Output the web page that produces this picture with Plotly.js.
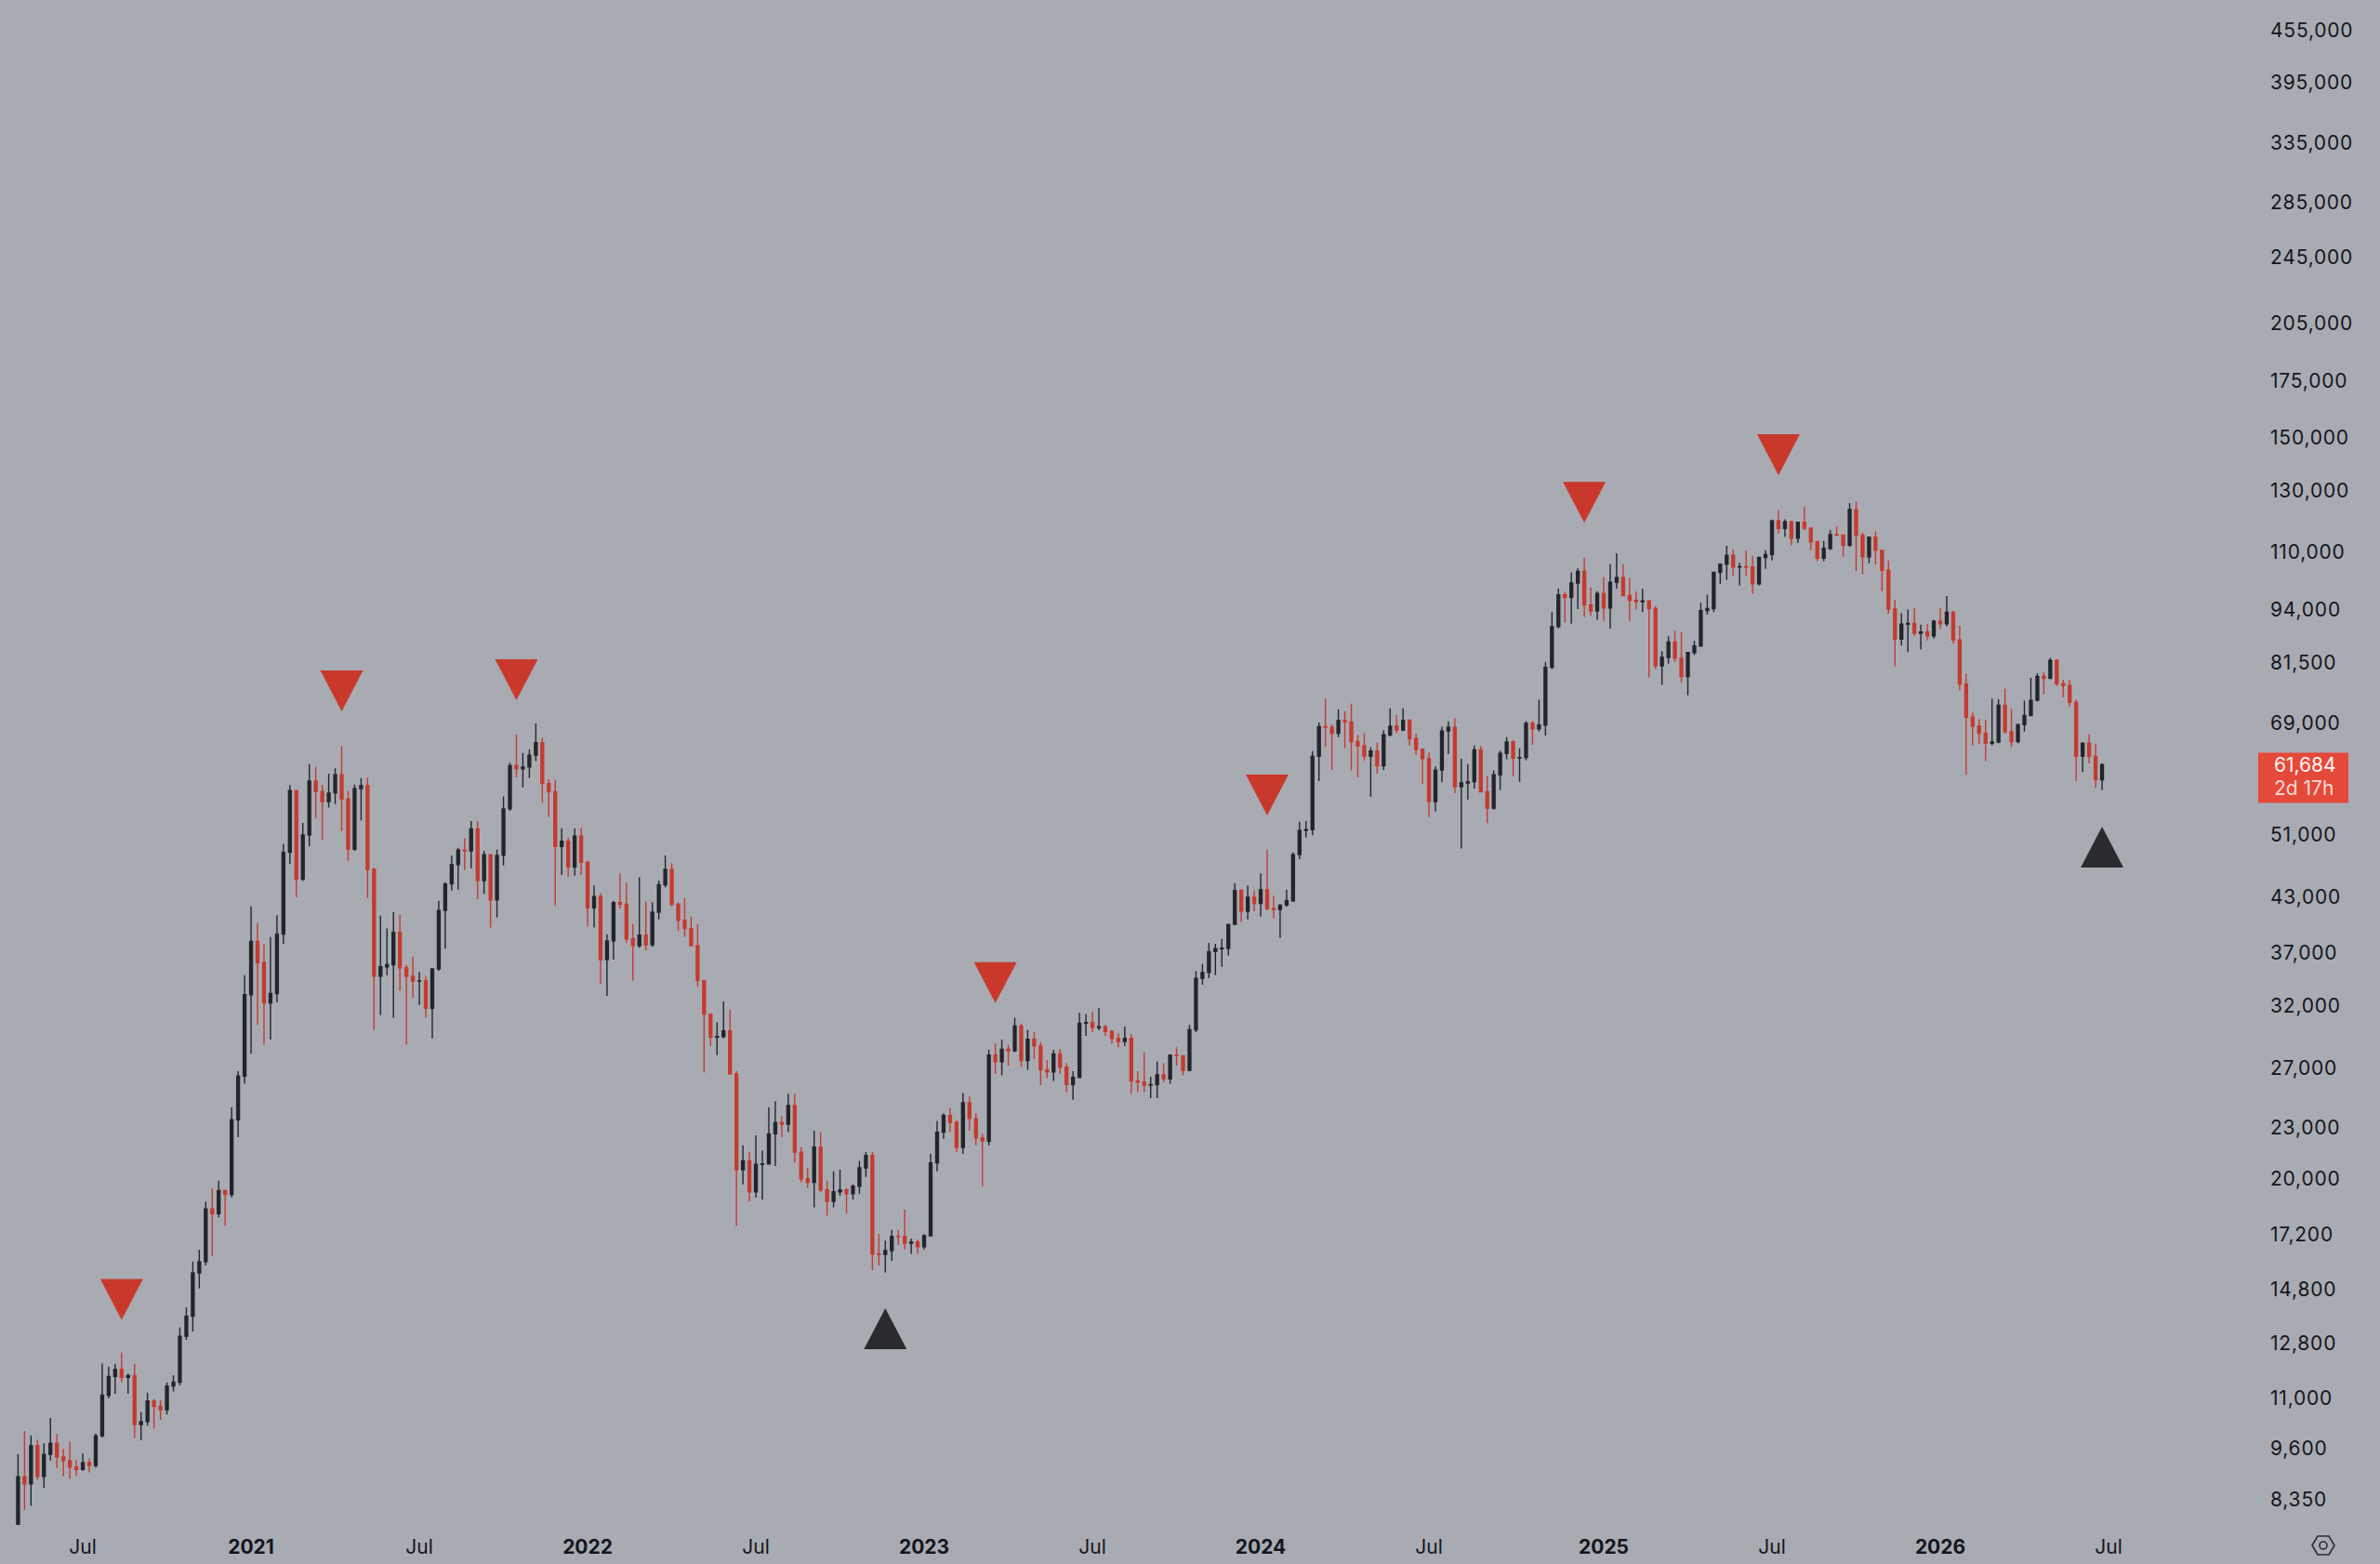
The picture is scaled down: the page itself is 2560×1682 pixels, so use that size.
<!DOCTYPE html>
<html>
<head>
<meta charset="utf-8">
<script src="https://cdn.plot.ly/plotly-3.0.1.min.js"></script>
<style>
html, body { margin: 0; padding: 0; background: #a9abb3; }
#chart { width: 2560px; height: 1682px; }
.ytick text { letter-spacing: 0.8px; }
</style>
</head>
<body>
<div id="chart"></div>
<script>
// ---------- DATA (weekly candles, [open, high, low, close]) ----------
const firstWeek = '2020-04-27';

const bars2020 = [
[7700,9460,7660,8890],[8890,10070,8120,8720],[8720,9950,8220,9680],[9680,9840,8810,8900],
[8900,9740,8630,9450],[9450,10430,9290,9740],[9740,9990,9100,9380],[9380,9590,8900,9290],
[9290,9780,8840,9130],[9130,9310,8920,9070],[9070,9470,9040,9240],[9240,9340,9000,9170],
[9170,10000,9120,9940],[9940,12100,9900,11100],[11100,12000,11000,11680],[11680,12090,11140,11910],
[11910,12470,11500,11650],[11650,11770,11140,11710],[11710,12090,9880,10250],[10250,10600,9820,10330],
[10330,11180,10220,10930],[10930,10990,10140,10770],[10770,10960,10380,10670],[10670,11490,10530,11380],
[11380,11720,11210,11500],[11500,13350,11400,13030],[13030,14100,12900,13760],[13760,15970,13200,15480],
[15480,16490,14850,15960],[15960,18800,15800,18420],[18420,19480,16200,18180],[18180,19900,18000,19360],
[19360,19420,17600,19170],[19170,24300,19000,23480],[23480,26800,22400,26440],[26440,34800,25900,33000]
];
const bars2021 = [
[33000,41950,28100,38150],[38150,40100,30400,36000],[36000,37850,28800,32260],[32260,38600,29200,33100],
[33100,40950,32300,38900],[38900,49700,37900,48600],[48600,58350,47100,57500],[57500,57500,43000,45200],
[45200,52650,44950,50950],[50950,61800,49400,59000],[59000,61300,53300,57350],[57350,58400,50300,55800],
[55800,60200,54900,57100],[57100,61100,55400,60000],[60000,64900,51500,56200],[56200,57500,47500,49000],
[49000,58450,48800,57800],[57800,59500,53000,58250],[58250,59600,42900,46400],[46400,46600,30000,34700],
[34700,40900,31200,35600],[35600,39500,34800,35800],[35800,41300,31000,39100],[39100,41000,33350,35500],
[35500,35800,28800,34700],[34700,36600,32700,34250],[34250,35100,32100,34260],[34260,34700,31000,31800],
[31800,35400,29300,35400],[35400,42600,35200,41500],[41500,44800,37400,44600],[44600,48200,43800,47000],
[47000,49200,43900,48900],[48900,50500,46300,48800],[48800,52900,46500,51800],[51800,52900,42800,45000],
[45000,48800,43400,48300],[48300,48300,39600,42700],[42700,49000,40700,48200],[48200,56600,46900,54700],
[54700,62000,54400,61500],[61500,67000,59600,61000],[61000,63700,58000,61300],[61300,64300,59500,63300],
[63300,69000,62300,65500],[65500,66400,55600,58600],[58600,59300,53500,57300],[57300,59200,42000,49400],
[49400,51900,45700,50100],[50100,50600,45500,46700],[46700,51900,45600,50800],[50800,52000,45700,47300]
];
const bars2022 = [
[47300,47500,39700,41800],[41800,44400,39600,43100],[43100,43500,34000,36300],[36300,38900,32900,38200],
[38200,42600,36300,42400],[42400,45900,41700,42200],[42200,44700,38000,38400],[38400,40000,34300,37700],
[37700,45400,37500,38800],[38800,42500,37200,37800],[37800,42400,37600,41300],[41300,45000,40500,44500],
[44500,48200,44200,46400],[46400,47200,41900,42200],[42200,42400,39200,40400],[40400,42900,38600,39500],
[39500,40800,37600,37700],[37700,40000,33700,34300],[34300,34300,26700,31300],[31300,31300,28700,29400],
[29400,30600,28000,29450],[29450,32400,29300,29900],[29900,31700,26600,26600],[26600,26800,17600,20500],
[20500,21900,19700,21000],[21000,21500,18800,19300],[19300,22500,19000,20800],[20800,21600,18900,20820],
[20820,24300,20800,22600],[22600,24700,20700,23300],[23300,23700,22400,23200],[23200,25200,22700,24400],
[24400,25200,20900,21500],[21500,21800,19800,20000],[20000,20600,19500,19800],[19800,22800,18500,21800],
[21800,22700,19300,19400],[19400,19900,18100,18800],[18800,20400,18500,19300],[19300,20500,19100,19400],
[19400,19500,18200,19200],[19200,19700,18900,19600],[19600,21000,19200,20600],[20600,21500,20100,21300],
[21300,21500,15600,16300],[16300,17200,15800,16280],[16280,16900,15500,16450],[16450,17400,16000,17100],
[17100,17400,16700,17090],[17090,18400,16500,16780],[16780,17000,16300,16840],[16840,16960,16300,16620]
];
const bars2023 = [
[16620,17200,16500,17130],[17130,21400,17100,20880],[20880,23400,20400,22700],[22700,23900,22300,23750],
[23750,24250,22700,23320],[23320,23450,21500,21780],[21780,25250,21400,24600],[24600,25020,22800,23560],
[23560,23900,21900,22350],[22350,22600,19600,22150],[22150,28400,21900,28000],[28000,28900,26600,27500],
[27500,29200,26500,28450],[28450,28800,27200,28330],[28330,31000,28200,30300],[30300,30500,27100,27590],
[27590,30000,26900,29230],[29230,29800,27700,28700],[28700,29000,25800,26900],[26900,27600,26300,26750],
[26750,28400,26100,28080],[28080,28450,26600,27100],[27100,27400,25300,25850],[25850,26800,24800,26340],
[26340,31400,26300,30540],[30540,31300,29500,30590],[30590,31500,29800,30170],[30170,31800,29950,30250],
[30250,30400,29500,29860],[29860,29950,28900,29300],[29300,29700,28600,29060],[29060,30250,28700,29300],
[29300,29650,25200,26100],[26100,26800,25300,26010],[26010,28200,25300,25800],[25800,26400,24900,25830],
[25830,27500,24900,26530],[26530,27400,26000,26250],[26250,28000,25900,27990],[27990,28600,27200,27950],
[27950,28000,26500,26860],[26860,30400,26800,29990],[29990,35200,29800,34500],[34500,35900,33900,35050],
[35050,38000,34500,37100],[37100,37900,34800,37400],[37400,38400,35600,37450],[37450,40000,36700,39950],
[39950,44700,39900,43800],[43800,44000,40200,41400],[41400,44400,40500,43000],[43000,43800,41400,42300]
];
const bars2024 = [
[42300,45900,40800,43900],[43900,49000,41500,41700],[41700,43200,40600,41600],[41600,42200,38500,42100],
[42100,43900,41900,42600],[42600,48600,42500,48300],[48300,52800,47700,51600],[51600,52900,50600,51700],
[51700,64000,50900,63100],[63100,69200,59000,68400],[68400,73800,64700,68300],[68300,68900,60800,67200],
[67200,71700,66500,69600],[69600,71300,64500,69300],[69300,72800,60700,65700],[65700,66900,59600,64900],
[64900,67200,62400,63100],[63100,64700,56500,64000],[64000,65500,60200,61500],[61500,67700,60800,66900],
[66900,71900,66600,68500],[68500,70600,67200,67800],[67800,71900,67600,69600],[69600,69800,65000,66200],
[66200,67100,63400,64300],[64300,64500,58500,62700],[62700,63800,53500,55800],[55800,61400,54300,60800],
[60800,68400,58800,67600],[67600,69400,63500,68300],[68300,70000,57100,58100],[58100,62700,49100,58700],
[58700,61800,56100,58900],[58900,65000,57800,64200],[64200,64900,57200,57300],[57300,59800,52600,54800],
[54800,60700,54600,60000],[60000,64100,57600,63600],[63600,66500,62600,65600],[65600,66000,59800,62800],
[62800,64500,58900,62900],[62900,69400,62400,69000],[69000,69500,65100,68000],[68000,73600,67500,68700],
[68700,81500,66800,80400],[80400,93400,80000,89800],[89800,99600,89400,97900],[97900,98800,90800,97200],
[97200,104000,90500,101100],[101100,105200,94200,104400],[104400,108300,92200,95200],[95200,99900,92500,93700],
[93700,98900,91500,98300]
];
const bars2025 = [
[98300,102700,91200,94500],[94500,106400,89300,101300],[101300,109600,99500,102600],[102600,106400,97500,97700],
[97700,102500,91200,96500],[96500,98800,94100,96100],[96100,99500,93400,96300],[96300,96500,78200,94300],
[94300,95000,80000,80700],[80700,84000,76600,82600],[82600,87500,81200,86100],[86100,88800,81600,82400],
[82400,88500,77100,78400],[78400,83800,74500,83700],[83700,86400,83100,85200],[85200,95800,85100,93800],
[93800,97900,92800,94300],[94300,104300,93400,104100],[104100,106600,100800,106400],[106400,111900,102000,109000],
[109000,110700,103100,105600],[105600,106800,100400,105700],[105700,110400,103000,105600],[105600,108900,98200,100900],
[100900,108500,100400,108400],[108400,110500,105100,109200],[109200,119900,107500,119800],[119800,123200,115700,117300],
[117300,120200,114700,119400],[119400,119800,112000,114200],[114200,119400,112700,119300],[119300,124500,116800,117400],
[117400,117600,110600,113100],[113100,113500,107300,108200],[108200,113400,107300,111100],[111100,116800,110600,115300],
[115300,117900,114900,115200],[115200,115400,108600,112100],[112100,125700,111500,123500],[123500,126200,104500,115100],
[115100,116000,103500,108600],[108600,114600,106700,114500],[114500,116400,106300,110500],[110500,110700,98900,104700],
[104700,107500,93000,94200],[94200,96600,80600,86800],[86800,93100,85300,90400],[90400,94100,83800,90600],
[90600,94500,87500,88200],[88200,90300,84400,88500],[88500,90400,86500,87600],[87600,91500,86900,91100]
];
const bars2026 = [
[91100,94400,89200,90500],[90500,97600,89900,93400],[93400,93700,85700,86600],[86600,90000,75500,76800],
[76800,79000,60000,70200],[70200,71100,65000,68500],[68500,69800,65300,67200],[67200,69700,62300,65400],
[65400,73800,65000,65600],[65600,73700,65400,72500],[72500,75900,67100,67500],[67500,71800,64700,65700],
[65700,68900,65400,68800],[68800,73400,67500,70500],[70500,78100,70400,73500],[73500,79100,73300,78400],
[78400,79300,74700,78000],[78000,82500,77900,81900],[81900,82200,76400,76900],[76900,77700,74100,76500],
[76500,77700,72200,73100],[73100,73600,59000,63100],[63100,65500,60500,65400],[65400,67000,61900,63100],
[63100,65300,57900,59200],[59200,61900,57600,61684]
];

// Signal markers (week of the signal and the price level where the marker sits)
const sellSignalWeeks  = ['2020-08-17','2021-04-12','2021-10-18','2023-03-20','2024-01-08','2024-12-16','2025-07-14'];
const sellSignalLevels = [14400, 75400, 77700, 34100, 56800, 125900, 143300];
const buySignalWeeks   = ['2022-11-21','2026-06-29'];
const buySignalLevels  = [13300, 49300];

// Axis ticks
const priceTicks = [455000,395000,335000,285000,245000,205000,175000,150000,130000,110000,94000,81500,69000,
                    51000,43000,37000,32000,27000,23000,20000,17200,14800,12800,11000,9600,8350];
const timeTickDates  = ['2020-07-06','2021-01-04','2021-07-05','2022-01-03','2022-07-04','2023-01-02','2023-07-03',
                        '2024-01-01','2024-07-01','2025-01-06','2025-07-07','2026-01-05','2026-07-06'];
const timeTickLabels = ['Jul','2021','Jul','2022','Jul','2023','Jul','2024','Jul','2025','Jul','2026','Jul'];
const countdownText = '2d 17h';

// ---------- STYLE ----------
const BG = '#a9abb3';
const UP = '#23252c';
const DOWN = '#c63a2e';
const SELL = '#c9392b';
const BUY = '#2a2b2f';
const TEXT = '#14161b';
const LABEL_BG = '#e4493a';
const FONT = 'Inter, "Noto Sans", Roboto, sans-serif';
const PLOT_W = 2425, PLOT_H = 1640;
const X_RANGE = ['2020-04-07 11:00', '2026-12-10 20:40'];
const Y_RANGE = [3.89208, 5.69349];

// ---------- BUILD ----------
const bars = [].concat(bars2020, bars2021, bars2022, bars2023, bars2024, bars2025, bars2026);
const t0 = new Date(firstWeek + 'T00:00:00Z').getTime();
const weekDates = bars.map((b, i) => new Date(t0 + i * 7 * 86400000).toISOString().slice(0, 10));
const open = bars.map(b => b[0]);
const high = bars.map(b => b[1]);
const low = bars.map(b => b[2]);
const close = bars.map(b => b[3]);
const lastClose = close[close.length - 1];

const candles = {
  type: 'candlestick',
  x: weekDates, open: open, high: high, low: low, close: close,
  increasing: { line: { color: UP, width: 1.4 }, fillcolor: UP },
  decreasing: { line: { color: DOWN, width: 1.4 }, fillcolor: DOWN },
  whiskerwidth: 0,
  hoverinfo: 'skip'
};

// map a (date, price) pair to paper fractions using the axis ranges
const xr0 = new Date(X_RANGE[0].replace(' ', 'T') + 'Z').getTime();
const xr1 = new Date(X_RANGE[1].replace(' ', 'T') + 'Z').getTime();
const xPaper = d => (new Date(d + 'T00:00:00Z').getTime() - xr0) / (xr1 - xr0);
const yPaper = v => (Math.log10(v) - Y_RANGE[0]) / (Y_RANGE[1] - Y_RANGE[0]);

const shapes = [];
const TW = 23, TH = 22;
sellSignalWeeks.forEach((d, i) => shapes.push({
  type: 'path', xref: 'paper', yref: 'paper', xsizemode: 'pixel', ysizemode: 'pixel',
  xanchor: xPaper(d), yanchor: yPaper(sellSignalLevels[i]),
  path: `M${-TW},${TH} L${TW},${TH} L0,${-TH} Z`,
  fillcolor: SELL, line: { width: 0 }, layer: 'above'
}));
buySignalWeeks.forEach((d, i) => shapes.push({
  type: 'path', xref: 'paper', yref: 'paper', xsizemode: 'pixel', ysizemode: 'pixel',
  xanchor: xPaper(d), yanchor: yPaper(buySignalLevels[i]),
  path: `M${-TW},${-TH} L${TW},${-TH} L0,${TH} Z`,
  fillcolor: BUY, line: { width: 0 }, layer: 'above'
}));
// last price label box
shapes.push({
  type: 'rect', xref: 'paper', yref: 'paper', ysizemode: 'pixel',
  x0: 2429 / PLOT_W, x1: 2526 / PLOT_W,
  yanchor: yPaper(lastClose), y0: -41, y1: 13,
  fillcolor: LABEL_BG, line: { width: 0 }, layer: 'above'
});
// settings icon
shapes.push({
  type: 'path', xref: 'paper', yref: 'paper', xsizemode: 'pixel', ysizemode: 'pixel',
  xanchor: 2499 / PLOT_W, yanchor: -22 / PLOT_H,
  path: 'M-12,0 L-6,10 L6,10 L12,0 L6,-10 L-6,-10 Z',
  line: { color: '#2a2c33', width: 1.6 }, fillcolor: 'rgba(0,0,0,0)'
});
shapes.push({
  type: 'circle', xref: 'paper', yref: 'paper', xsizemode: 'pixel', ysizemode: 'pixel',
  xanchor: 2499 / PLOT_W, yanchor: -22 / PLOT_H,
  x0: -4, x1: 4, y0: -4, y1: 4,
  line: { color: '#2a2c33', width: 1.6 }
});

const annotations = [
  { xref: 'paper', yref: 'y', x: 2444 / PLOT_W, y: Math.log10(lastClose), xanchor: 'left', yanchor: 'middle',
    text: lastClose.toLocaleString('en-US'), showarrow: false, font: { family: FONT, size: 21, color: '#fff4f2' } },
  { xref: 'paper', yref: 'y', x: 2444 / PLOT_W, y: Math.log10(lastClose), yshift: -25, xanchor: 'left', yanchor: 'middle',
    text: countdownText, showarrow: false, font: { family: FONT, size: 21, color: '#f8d9d4' } }
];

const layout = {
  width: 2560, height: 1682,
  margin: { l: 0, r: 135, t: 0, b: 42 },
  paper_bgcolor: BG, plot_bgcolor: BG,
  showlegend: false, hovermode: false,
  boxgap: 0.4,
  font: { family: FONT, color: TEXT },
  xaxis: {
    type: 'date',
    range: X_RANGE,
    tickvals: timeTickDates,
    ticktext: timeTickLabels.map(s => /^\d{4}$/.test(s) ? '<b>' + s + '</b>' : s),
    tickfont: { family: FONT, size: 21, color: TEXT },
    showgrid: false, zeroline: false, showline: false, ticks: '',
    ticklabelstandoff: 9,
    rangeslider: { visible: false },
    fixedrange: true
  },
  yaxis: {
    type: 'log', side: 'right',
    range: Y_RANGE,
    tickvals: priceTicks,
    tickformat: ',.0f',
    tickfont: { family: FONT, size: 21, color: TEXT },
    showgrid: false, zeroline: false, showline: false, ticks: '',
    ticklabelstandoff: 16,
    fixedrange: true
  },
  shapes: shapes,
  annotations: annotations
};

Plotly.newPlot('chart', [candles], layout, { displayModeBar: false, staticPlot: true });
</script>
</body>
</html>
